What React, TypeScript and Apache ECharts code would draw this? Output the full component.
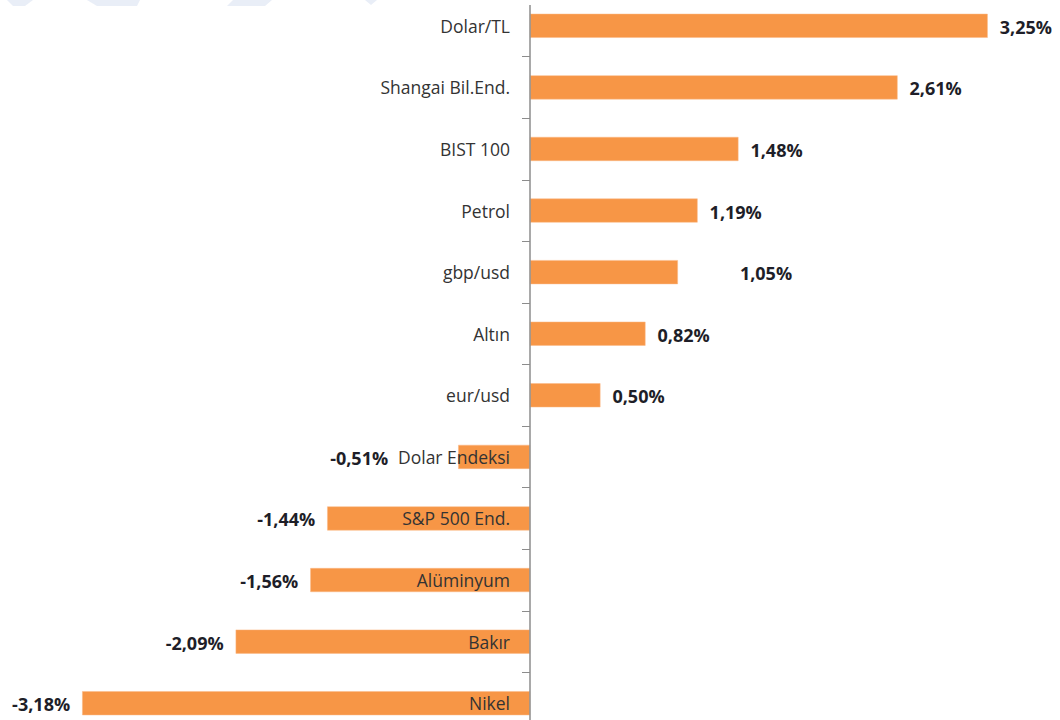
import React, { useEffect, useRef } from "react";
import * as echarts from "echarts";

const categories = [
  "Dolar/TL",
  "Shangai Bil.End.",
  "BIST 100",
  "Petrol",
  "gbp/usd",
  "Altın",
  "eur/usd",
  "Dolar Endeksi",
  "S&P 500 End.",
  "Alüminyum",
  "Bakır",
  "Nikel",
];
const values = [3.25, 2.61, 1.48, 1.19, 1.05, 0.82, 0.5, -0.51, -1.44, -1.56, -2.09, -3.18];

export default function App() {
  const ref = useRef<HTMLDivElement>(null);
  useEffect(() => {
    document.body.style.margin = "0";
    if (!ref.current) return;
    const chart = echarts.init(ref.current, undefined, { renderer: "svg" });
    const labelShift: Record<string, number> = { "gbp/usd": 50, "Dolar Endeksi": -58 };
    const fmt = (v: number) => v.toFixed(2).replace(".", ",") + "%";
    const data = values.map((v, i) => ({
      value: v,
      label: {
        position: v >= 0 ? "right" : "left",
        offset: [labelShift[categories[i]] || 0, 1],
      },
    }));
    const wm = "#e9eef7";
    const Y0 = 5; // chart canvas is shifted up by this many pixels
    chart.setOption({
      animation: false,
      backgroundColor: "#ffffff",
      graphic: [
        { type: "polygon", shape: { points: [[7, Y0], [33, Y0], [25, Y0 + 6], [13, Y0 + 6]] }, style: { fill: wm }, silent: true },
        { type: "polygon", shape: { points: [[87, Y0], [140, Y0], [137, Y0 + 6], [97, Y0 + 6]] }, style: { fill: wm }, silent: true },
        { type: "polygon", shape: { points: [[233, Y0], [272, Y0], [265, Y0 + 6], [227, Y0 + 6]] }, style: { fill: wm }, silent: true },
        { type: "polygon", shape: { points: [[365, Y0], [377, Y0], [371, Y0 + 5]] }, style: { fill: wm }, silent: true },
        { type: "rect", shape: { x: 526, y: 0, width: 8, height: Y0 + 5 }, style: { fill: "#ffffff" }, z: 100, silent: true },
      ],
      grid: { left: 23, right: 23, top: 0, bottom: 1, containLabel: false },
      xAxis: {
        type: "value",
        min: -3.6,
        max: 3.6,
        show: false,
        splitLine: { show: false },
      },
      yAxis: {
        type: "category",
        inverse: true,
        data: categories,
        z: 5,
        position: "left",
        offset: -507,
        axisLine: { onZero: false, lineStyle: { color: "#8c8c8c", width: 1.5 } },
        axisTick: { show: true, alignWithLabel: false, length: 8, lineStyle: { color: "#8c8c8c", width: 1 } },
        axisLabel: {
          margin: 20,
          color: "#333333",
          fontFamily: "Open Sans",
          fontSize: 17.5,
        },
      },
      series: [
        {
          type: "bar",
          data,
          barWidth: 24,
          itemStyle: { color: "#F79646", borderColor: "#fbb987", borderWidth: 0.5 },
          label: {
            show: true,
            distance: 12,
            color: "#1e1e28",
            fontFamily: "Open Sans",
            fontWeight: "bold",
            fontSize: 18,
            formatter: (p: any) => fmt(p.value),
          },
        },
      ],
    });
    return () => chart.dispose();
  }, []);
  return (
    <div style={{ width: 1060, height: 720, overflow: "hidden", position: "relative" }}>
      <div ref={ref} style={{ width: 1060, height: 740, position: "absolute", left: 0, top: -5 }} />
    </div>
  );
}
